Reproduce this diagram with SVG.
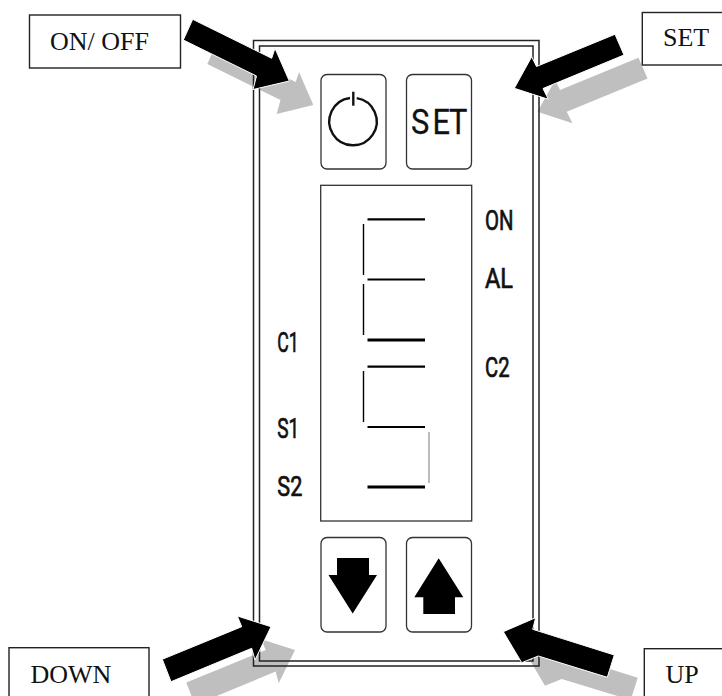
<svg xmlns="http://www.w3.org/2000/svg" width="722" height="696" viewBox="0 0 722 696">
<style>
.bg{fill:#fff}
.box{fill:#fff;stroke:#222;stroke-width:1.4}
.frame{fill:none;stroke:#222;stroke-width:1.5}
.btn{fill:#fff;stroke:#333;stroke-width:1.3}
.cap{font-family:"Liberation Serif",serif;font-size:26px;fill:#111}
.lab{font-family:"Roboto","Liberation Sans",sans-serif;font-size:27px;fill:#111;stroke:#111;stroke-width:.7}
.seg{stroke:#000;stroke-width:2.2;fill:none}
.shadow{fill:#bfbfbf}
.arrow{fill:#000;stroke:#fff;stroke-width:1}
</style>
<rect class="bg" width="722" height="696"/>
<g id="connectors-shadow">
<polygon class="shadow" points="216.7,43 207.3,64 280.5,100 276.7,114 313.3,105 299,72 295.7,82"/>
<polygon class="shadow" points="638.5,57.8 647.5,78.5 566.7,111.7 572.5,123.3 537.5,111.7 555.2,80 560,90"/>
<polygon class="shadow" points="186.3,682.6 195,705 275.7,671.6 278.7,683.3 295,650 261.3,639.3 265.7,650"/>
<polygon class="shadow" points="637.7,677.7 630.7,700 561.7,679 545,685.7 526.7,654.7 559,640.7 556,652"/>
</g>
<g id="panel">
<rect class="frame" x="253.5" y="40.5" width="285.5" height="625.5"/>
<rect class="frame" x="259.5" y="46" width="273.5" height="615"/>
</g>
<g id="btn-power">
<rect class="btn" x="321" y="74.5" width="65" height="94.5" rx="6"/>
<path d="M350 98A23.7 23.7 0 1 0 356.7 98.1" fill="none" stroke="#111" stroke-width="2.4"/>
<line x1="353.3" y1="91.7" x2="353.3" y2="105.7" stroke="#111" stroke-width="2.4"/>
</g>
<g id="btn-set">
<rect class="btn" x="406.5" y="74.5" width="65" height="94.5" rx="6"/>
<text transform="translate(411,134) scale(.88,1)" x="0 24.4 43.2" y="0" font-family="Roboto,'Liberation Sans',sans-serif" font-size="35" fill="#111" stroke="#111" stroke-width=".3">SET</text>
</g>
<g id="display">
<rect class="btn" x="320.7" y="185.3" width="151" height="335.7"/>
<line class="seg" x1="367.5" y1="219.3" x2="425" y2="219.3"/>
<line class="seg" x1="367.5" y1="279.5" x2="425" y2="279.5"/>
<line class="seg" x1="367.5" y1="340" x2="425" y2="340" style="stroke-width:2.8"/>
<line class="seg" x1="367.5" y1="366.7" x2="425" y2="366.7"/>
<line class="seg" x1="367.5" y1="427" x2="425" y2="427"/>
<line class="seg" x1="367.5" y1="487" x2="425" y2="487" style="stroke-width:3"/>
<line class="seg" x1="363.5" y1="224" x2="363.5" y2="275" style="stroke-width:1.4"/>
<line class="seg" x1="363.5" y1="284" x2="363.5" y2="335" style="stroke-width:1.4"/>
<line class="seg" x1="363.5" y1="371" x2="363.5" y2="422" style="stroke-width:1.4"/>
<line class="seg" x1="429" y1="432" x2="429" y2="483" style="stroke:#999;stroke-width:1.3"/>
<text class="lab" x="485" y="230" textLength="28.5" lengthAdjust="spacingAndGlyphs">ON</text>
<text class="lab" x="485" y="288.3" textLength="28" lengthAdjust="spacingAndGlyphs">AL</text>
<text class="lab" x="277.3" y="351.7" textLength="21.5" lengthAdjust="spacingAndGlyphs">C1</text>
<text class="lab" x="485" y="377.3" textLength="24.5" lengthAdjust="spacingAndGlyphs">C2</text>
<text class="lab" x="277.3" y="438.3" textLength="22" lengthAdjust="spacingAndGlyphs">S1</text>
<text class="lab" x="277.3" y="496" textLength="25" lengthAdjust="spacingAndGlyphs">S2</text>
</g>
<g id="btn-down">
<rect class="btn" x="321" y="537.5" width="65" height="94.5" rx="6"/>
<polygon points="337,558 369,558 369,575 377,575 352.7,613.5 328.5,575 337,575" fill="#000"/>
</g>
<g id="btn-up">
<rect class="btn" x="406.5" y="537.5" width="65" height="94.5" rx="6"/>
<polygon points="438.7,558.3 463.3,597.3 455,597.3 455,614 423.3,614 423.3,597.3 414.3,597.3" fill="#000"/>
</g>
<g id="connectors">
<polygon class="arrow" points="192.7,19.3 183.3,40 256.5,76 253,89.5 289.3,81 275,48.3 271.7,58.3"/>
<polygon class="arrow" points="615,34.3 624,55 543,88.5 548.3,99.3 514.3,88.3 531.7,56.7 536.5,66.5"/>
<polygon class="arrow" points="162.3,659.3 171,681.7 251.7,648.3 255,660 271,626.7 237.3,616 241.7,626.7"/>
<polygon class="arrow" points="614.3,655 607.3,677.3 538.3,656 521.7,662.7 503.3,631.7 535.7,617.7 532.7,629.3"/>
</g>
<g id="label-onoff">
<rect class="box" x="29.5" y="15" width="151" height="53"/>
<text class="cap" x="50" y="50">ON/ OFF</text>
</g>
<g id="label-set">
<rect class="box" x="642.3" y="12.5" width="90" height="52.5"/>
<text class="cap" x="663" y="46">SET</text>
</g>
<g id="label-down">
<rect class="box" x="9" y="647.7" width="140" height="60"/>
<text class="cap" x="30.5" y="683.3">DOWN</text>
</g>
<g id="label-up">
<rect class="box" x="644.3" y="648.7" width="90" height="60"/>
<text class="cap" x="665.5" y="683.3">UP</text>
</g>
</svg>
